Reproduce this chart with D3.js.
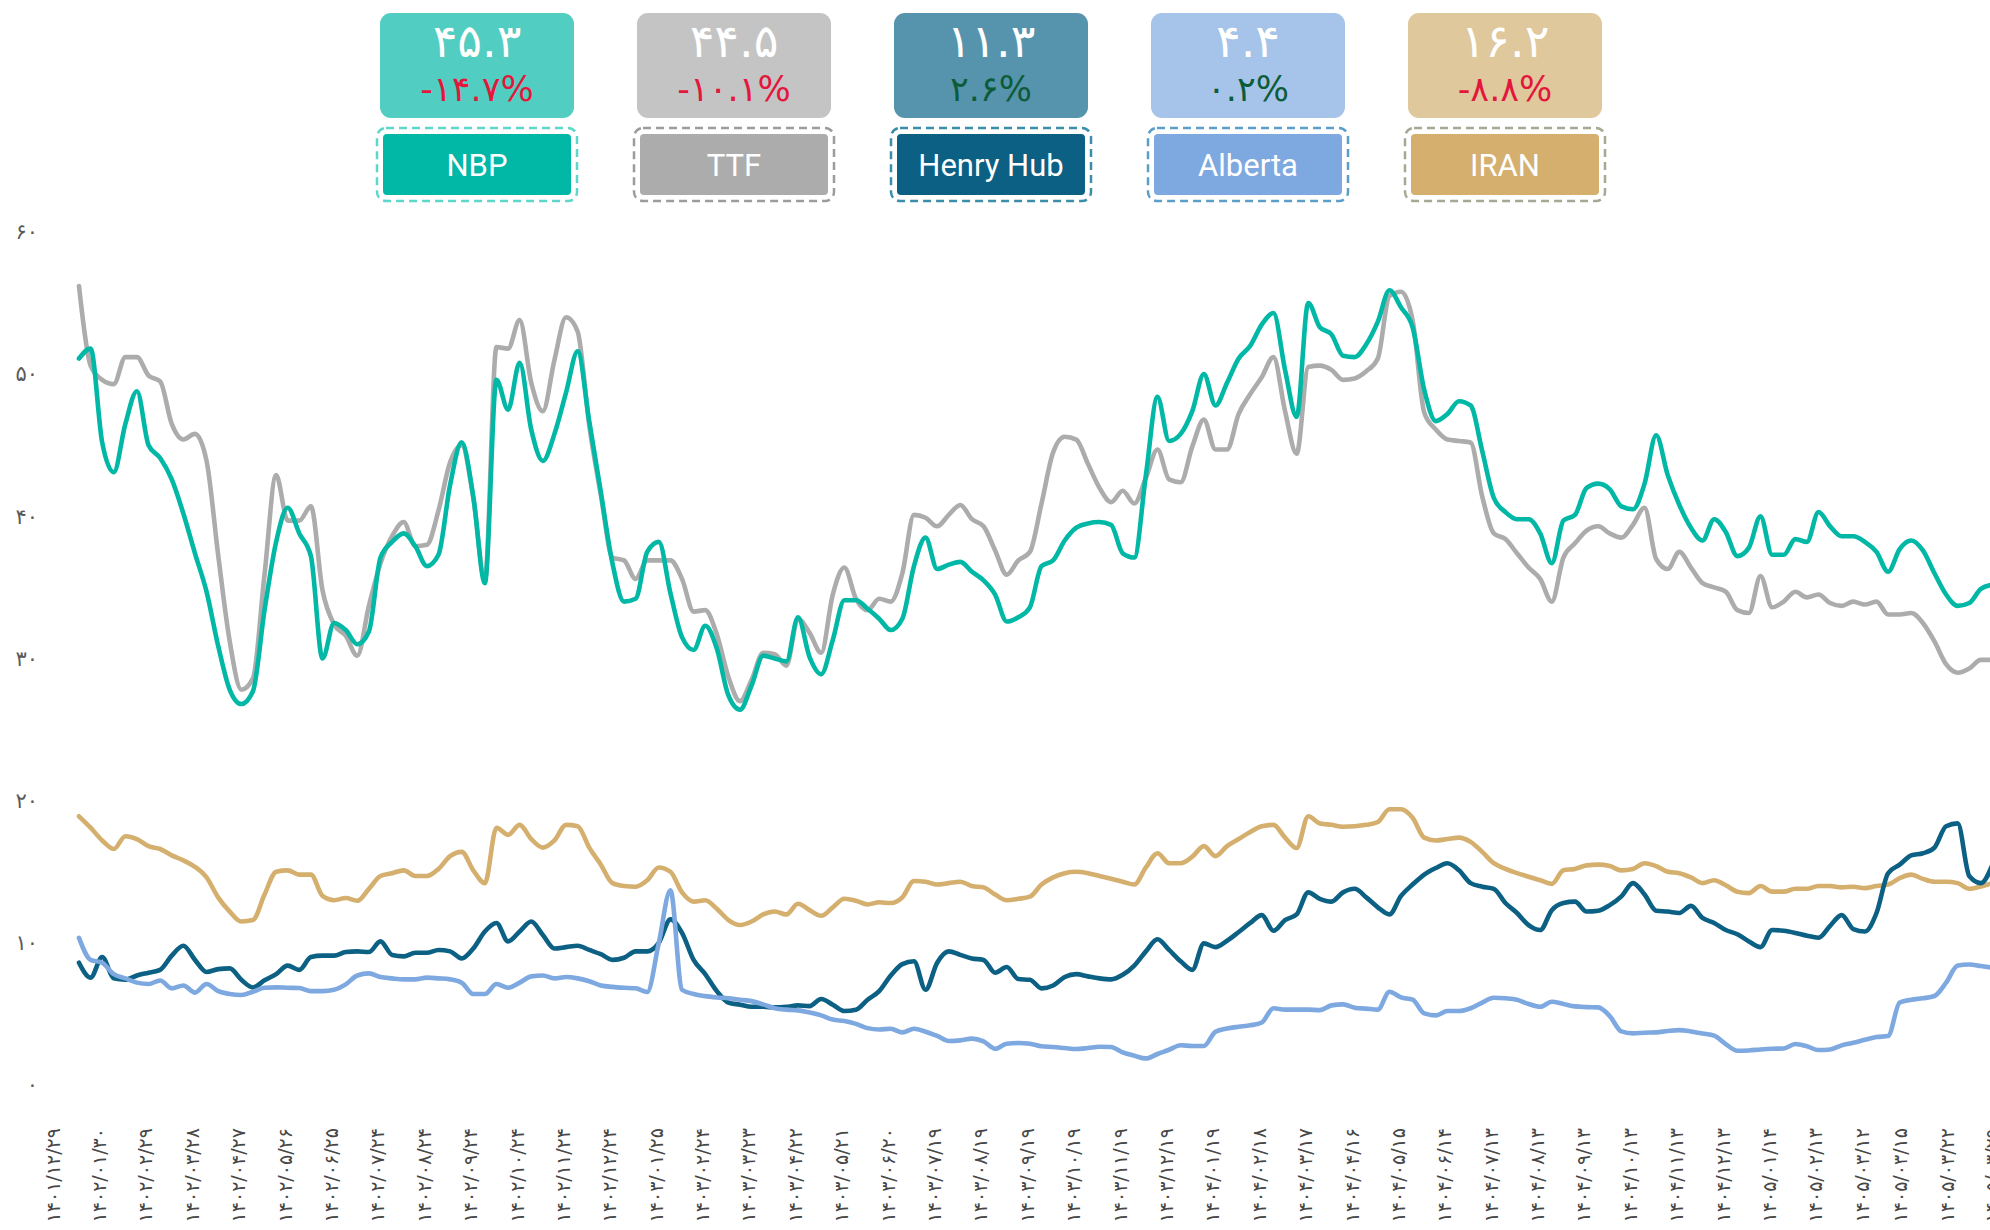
<!DOCTYPE html>
<html>
<head>
<meta charset="utf-8">
<script src="https://cdn.jsdelivr.net/npm/d3@7"></script>
<style>
  html, body { margin: 0; padding: 0; background: #fff; }
  svg { display: block; font-family: Roboto, "DejaVu Sans", sans-serif; }
</style>
</head>
<body>
<div id="chart"></div>
<script>
// gas prices, one value every quarter of a label interval
const nbp = [51.1,51.8,45.2,43.1,46.5,48.8,45.0,44.1,42.6,40.2,37.4,34.7,30.9,27.8,26.8,27.7,33.4,38.2,40.6,38.8,
  37.2,30.0,32.5,32.0,31.0,31.9,37.1,38.2,38.8,37.9,36.5,37.3,42.2,45.2,41.4,35.3,49.6,47.5,50.8,46.1,
  43.9,45.8,48.7,51.6,46.7,41.7,36.7,34.0,34.2,37.5,38.2,34.6,31.5,30.6,32.3,30.7,27.4,26.4,28.1,30.2,
  30.0,29.8,32.9,30.1,28.9,31.3,34.1,34.1,33.5,32.8,32.0,32.8,36.5,38.5,36.3,36.6,36.8,36.1,35.5,34.5,
  32.6,32.9,33.6,36.5,36.9,38.3,39.2,39.5,39.6,39.4,37.4,37.1,42.9,48.4,45.3,45.8,47.4,50.0,47.8,49.4,
  51.1,52.0,53.5,54.3,50.3,47.0,55.0,53.3,52.8,51.3,51.2,52.1,53.7,55.9,54.7,53.3,48.9,46.7,47.2,48.1,
  47.8,44.6,41.3,40.3,39.8,39.8,38.8,36.7,39.7,40.1,42.0,42.3,41.9,40.7,40.5,42.3,45.7,42.9,40.8,39.2,
  38.3,39.8,38.9,37.2,37.8,40.0,37.3,37.3,38.4,38.2,40.3,39.3,38.6,38.6,38.2,37.5,36.1,37.7,38.3,37.6,
  36.0,34.5,33.7,33.9,34.9,35.2];

const ttf = [56.2,50.6,49.6,49.3,51.2,51.2,49.9,49.5,46.5,45.4,45.8,43.9,37.3,31.2,27.8,28.6,35.9,42.9,39.7,39.7,
  40.7,34.8,32.4,31.6,30.2,33.7,36.7,38.6,39.6,37.9,38.0,40.4,43.8,45.0,41.3,35.5,51.9,51.8,53.8,49.4,
  47.4,51.0,54.0,53.0,46.4,41.5,37.1,36.9,35.6,36.9,36.9,36.9,35.6,33.3,33.4,31.7,28.7,27.0,28.5,30.4,
  30.3,29.5,32.8,31.8,30.4,34.5,36.4,34.2,33.4,34.2,34.0,36.0,40.1,39.9,39.3,40.1,40.8,39.8,39.3,37.6,
  35.9,36.9,37.5,40.9,44.5,45.6,45.4,43.7,42.0,41.0,41.8,40.9,42.7,44.7,42.6,42.4,44.9,46.8,44.7,44.7,
  47.2,48.6,49.8,51.2,47.4,44.4,50.5,50.6,50.3,49.6,49.7,50.2,51.1,55.5,55.8,53.8,47.3,46.1,45.4,45.3,
  45.2,41.4,38.8,38.4,37.4,36.4,35.6,34.0,37.1,38.1,39.0,39.3,38.8,38.5,39.4,40.6,37.0,36.3,37.5,36.4,
  35.3,35.0,34.7,33.4,33.2,35.8,33.6,34.0,34.7,34.3,34.5,33.9,33.7,34.0,33.8,34.0,33.1,33.1,33.2,32.5,
  31.2,29.6,29.0,29.3,29.9,29.9];

const henryHub = [8.6,7.55,9.0,7.5,7.4,7.7,7.9,8.1,9.1,9.8,8.8,7.95,8.15,8.2,7.4,6.86,7.36,7.8,8.4,8.1,
  9.0,9.1,9.1,9.35,9.4,9.35,10.1,9.15,9.05,9.3,9.3,9.5,9.4,8.9,9.6,10.8,11.4,10.1,10.8,11.5,
  10.55,9.6,9.7,9.8,9.5,9.2,8.8,8.95,9.4,9.4,10.0,11.65,10.7,8.8,7.8,6.6,5.8,5.65,5.5,5.5,
  5.46,5.5,5.6,5.55,6.05,5.65,5.2,5.3,6.0,6.6,7.7,8.5,8.7,6.7,8.6,9.4,9.15,8.9,8.8,7.9,
  8.3,7.45,7.4,6.8,7.0,7.6,7.8,7.64,7.5,7.43,7.75,8.4,9.4,10.25,9.5,8.7,8.1,9.96,9.7,10.15,
  10.76,11.4,11.95,10.85,11.6,12.0,13.55,13.1,12.9,13.55,13.8,13.2,12.5,12.0,13.3,14.1,14.8,15.26,15.6,15.1,
  14.2,13.95,13.8,12.8,12.1,11.25,10.9,12.3,12.8,12.9,12.2,12.26,12.65,13.27,14.2,13.4,12.26,12.2,12.1,12.6,
  11.75,11.4,10.9,10.6,10.1,9.7,10.9,10.85,10.7,10.5,10.36,11.2,11.95,10.97,10.8,12.1,14.9,15.5,16.15,16.3,
  16.7,18.2,18.4,14.7,14.2,15.5];

const alberta = [10.35,8.8,8.6,7.8,7.5,7.2,7.1,7.35,6.8,7.0,6.5,7.1,6.6,6.4,6.33,6.56,6.84,6.87,6.84,6.82,
  6.6,6.6,6.7,7.08,7.7,7.85,7.6,7.5,7.43,7.43,7.55,7.5,7.43,7.2,6.4,6.4,7.1,6.84,7.2,7.64,
  7.7,7.5,7.6,7.5,7.3,7.0,6.9,6.84,6.8,6.54,10.0,13.7,6.7,6.4,6.25,6.16,6.1,6.0,5.9,5.67,
  5.4,5.3,5.25,5.1,4.9,4.6,4.5,4.3,4.0,3.9,3.96,3.7,3.96,3.75,3.45,3.1,3.14,3.26,3.07,2.55,
  2.9,2.95,2.9,2.72,2.67,2.6,2.53,2.6,2.69,2.67,2.3,2.06,1.87,2.18,2.48,2.8,2.74,2.74,3.75,3.98,
  4.1,4.2,4.4,5.4,5.3,5.3,5.3,5.27,5.6,5.67,5.44,5.37,5.3,6.56,6.16,6.0,5.04,4.9,5.2,5.2,
  5.4,5.8,6.14,6.1,6.0,5.7,5.5,5.86,5.7,5.53,5.48,5.46,4.85,3.77,3.63,3.68,3.7,3.8,3.86,3.77,
  3.63,3.47,2.88,2.41,2.43,2.5,2.55,2.57,2.88,2.72,2.46,2.5,2.79,2.97,3.18,3.37,3.44,5.8,6.0,6.1,
  6.26,7.2,8.4,8.48,8.37,8.25];

const iran = [18.9,18.1,17.2,16.6,17.5,17.3,16.8,16.6,16.15,15.8,15.35,14.6,13.2,12.2,11.5,11.6,13.4,15.0,15.1,14.8,
  14.8,13.3,13.0,13.15,12.96,13.8,14.7,14.9,15.1,14.7,14.7,15.2,16.1,16.4,15.1,14.2,18.1,17.6,18.3,17.3,
  16.7,17.2,18.3,18.2,16.7,15.5,14.2,14.0,13.95,14.4,15.3,15.0,13.55,12.9,13.0,12.4,11.6,11.25,11.5,12.0,
  12.2,12.0,12.75,12.3,11.9,12.5,13.1,12.96,12.7,12.85,12.8,13.2,14.35,14.3,14.1,14.2,14.3,14.0,13.9,13.4,
  13.0,13.1,13.25,14.1,14.6,14.9,15.0,14.9,14.7,14.5,14.3,14.1,15.3,16.3,15.6,15.6,16.06,16.8,16.1,16.8,
  17.3,17.8,18.2,18.3,17.4,16.67,18.9,18.4,18.3,18.17,18.2,18.3,18.5,19.4,19.4,18.8,17.4,17.2,17.3,17.4,
  17.1,16.4,15.6,15.2,14.9,14.65,14.4,14.15,15.1,15.2,15.45,15.5,15.4,15.1,15.2,15.6,15.4,15.0,14.9,14.6,
  14.2,14.4,14.05,13.6,13.5,14.0,13.6,13.6,13.8,13.8,14.0,14.0,13.9,13.95,13.85,14.0,14.1,14.55,14.8,14.5,
  14.3,14.3,14.2,13.8,13.97,14.2];

const dateLabels = ["1401/12/29","1402/01/30","1402/02/29","1402/03/28","1402/04/27","1402/05/26","1402/06/25",
  "1402/07/24","1402/08/24","1402/09/24","1402/10/24","1402/11/24","1402/12/24","1403/01/25","1403/02/24",
  "1403/03/23","1403/04/22","1403/05/21","1403/06/20","1403/07/19","1403/08/19","1403/09/19","1403/10/19",
  "1403/11/19","1403/12/19","1404/01/19","1404/02/18","1404/03/17","1404/04/16","1404/05/15","1404/06/14",
  "1404/07/13","1404/08/13","1404/09/13","1404/10/13","1404/11/13","1404/12/13","1405/01/14","1405/02/13",
  "1405/03/12","1405/03/15","1405/03/22","1405/03/29"];
// label slots (in label-interval units); the last few come closer together
const dateSlots = d3.range(40).concat([39.82, 40.84, 41.8]);

const seriesNames = ["NBP", "TTF", "Henry Hub", "Alberta", "IRAN"];
const lastValues = [45.3, 44.5, 11.3, 4.4, 16.2];
const changes = [-14.7, -10.1, 2.6, 0.2, -8.8];
const yTicks = [0, 10, 20, 30, 40, 50, 60];

const W = 1990, H = 1230;
const faDigits = "۰۱۲۳۴۵۶۷۸۹";
const toFa = s => String(s).replace(/[0-9]/g, d => faDigits[+d]);

const colors = {
  "NBP":       { line: "#00b8a5", top: "#52cdc1", dash: "#5ed6c9" },
  "TTF":       { line: "#acacac", top: "#c4c4c4", dash: "#9c9c9c" },
  "Henry Hub": { line: "#0b6083", top: "#5694ad", dash: "#3a8ea8" },
  "Alberta":   { line: "#7ea8e0", top: "#a6c3e9", dash: "#5b9ec7" },
  "IRAN":      { line: "#d4af6e", top: "#e0c89d", dash: "#a6a895" }
};

const svg = d3.select("#chart").append("svg")
  .attr("width", W).attr("height", H)
  .attr("viewBox", [0, 0, W, H]);

// scales: x runs in label-interval units, data starts a bit after the first label
const x = d3.scaleLinear().domain([0, 41.8]).range([53, 1992]);
const y = d3.scaleLinear().domain([0, 60]).range([1085, 232]);
const startSlot = 0.56, step = 0.25;

// y axis
const yAxis = svg.append("g")
  .attr("transform", "translate(42,0)")
  .call(d3.axisLeft(y).tickValues(yTicks).tickSize(0).tickPadding(4).tickFormat(toFa));
yAxis.select(".domain").remove();
yAxis.selectAll("text")
  .attr("font-family", "'DejaVu Sans', sans-serif")
  .attr("font-size", 21)
  .attr("fill", "#5a5a5a");

// x labels, rotated
svg.append("g").selectAll("text")
  .data(dateLabels)
  .join("text")
  .attr("transform", (d, i) => `translate(${x(dateSlots[i])},1128) rotate(-90)`)
  .attr("text-anchor", "end")
  .attr("dy", "0.35em")
  .attr("direction", "ltr")
  .attr("font-family", "'DejaVu Sans', sans-serif")
  .attr("font-size", 19)
  .attr("fill", "#474747")
  .text(d => toFa(d));

// lines
const line = d3.line()
  .x((d, i) => x(startSlot + i * step))
  .y(d => y(d))
  .curve(d3.curveMonotoneX);

const drawOrder = [
  ["TTF", ttf], ["NBP", nbp], ["IRAN", iran], ["Henry Hub", henryHub], ["Alberta", alberta]
];
svg.append("g").selectAll("path")
  .data(drawOrder)
  .join("path")
  .attr("d", d => line(d[1]))
  .attr("fill", "none")
  .attr("stroke", d => colors[d[0]].line)
  .attr("stroke-width", 4.6)
  .attr("stroke-linejoin", "round")
  .attr("stroke-linecap", "round");

// legend cards
const lx = d3.scalePoint().domain(seriesNames).range([477, 1505]);
const card = svg.append("g").selectAll("g")
  .data(seriesNames)
  .join("g")
  .attr("transform", d => `translate(${lx(d)},0)`);

card.append("rect")
  .attr("x", -97).attr("y", 13).attr("width", 194).attr("height", 105).attr("rx", 11)
  .attr("fill", d => colors[d].top);

card.append("text")
  .attr("y", 41).attr("dy", "0.35em")
  .attr("text-anchor", "middle")
  .attr("font-family", "'DejaVu Sans', sans-serif")
  .attr("font-size", 46)
  .attr("fill", "#fff")
  .text((d, i) => toFa(lastValues[i].toFixed(1)));

card.append("text")
  .attr("y", 89).attr("dy", "0.35em")
  .attr("text-anchor", "middle")
  .attr("direction", "ltr")
  .attr("font-family", "'DejaVu Sans', sans-serif")
  .attr("font-size", 35)
  .attr("fill", (d, i) => changes[i] < 0 ? "#e3163b" : "#0d5b39")
  .text((d, i) => toFa(changes[i].toFixed(1)) + "%");

card.append("rect")
  .attr("x", -100).attr("y", 128).attr("width", 200).attr("height", 73).attr("rx", 9)
  .attr("fill", "#fff")
  .attr("stroke", d => colors[d].dash)
  .attr("stroke-width", 2.5)
  .attr("stroke-dasharray", "8 5");

card.append("rect")
  .attr("x", -94).attr("y", 134).attr("width", 188).attr("height", 61).attr("rx", 4)
  .attr("fill", d => colors[d].line);

card.append("text")
  .attr("y", 165).attr("dy", "0.35em")
  .attr("text-anchor", "middle")
  .attr("font-family", "Roboto, sans-serif")
  .attr("font-size", 31)
  .attr("fill", "#fff")
  .text(d => d);
</script>
</body>
</html>
